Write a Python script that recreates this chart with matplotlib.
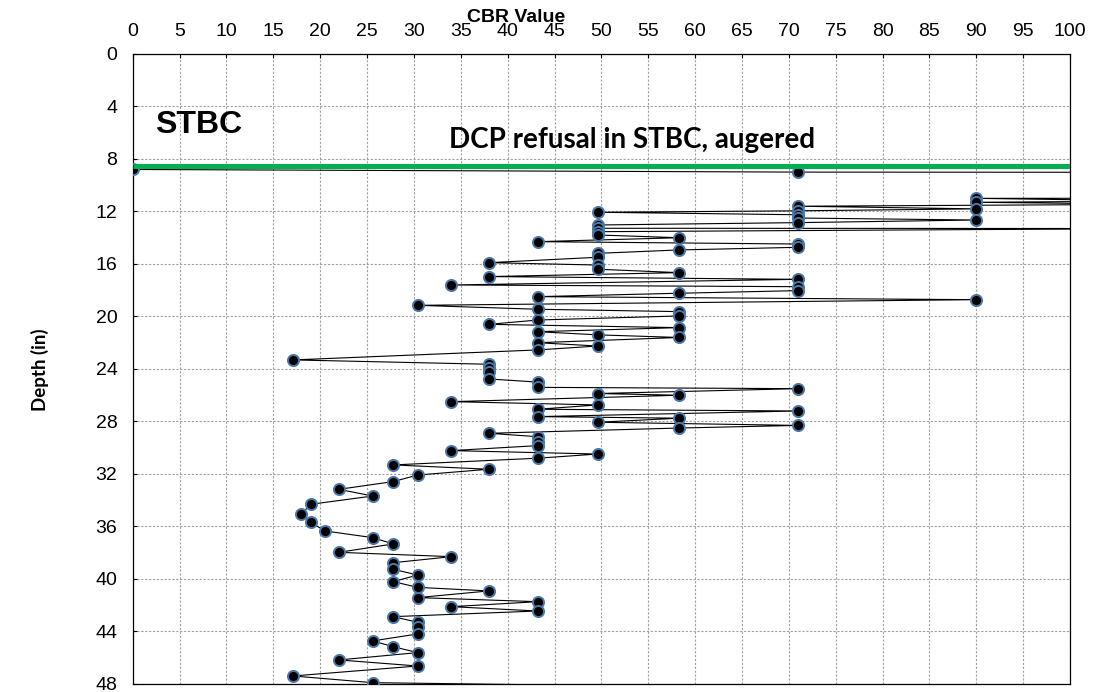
import matplotlib
matplotlib.use('Agg')
import matplotlib.pyplot as plt

# DCP profile, depth in inches and CBR value per reading
# (values above 100 run off the right edge of the chart)
depth = [8.8, 9.0, 9.1, 10.9, 11.0, 11.2, 11.3, 11.45, 11.6, 11.8, 11.95, 12.06,
         12.25, 12.5, 12.65, 12.85, 13.03, 13.28, 13.3, 13.54, 13.79, 14.0, 14.3,
         14.48, 14.73, 14.93, 15.19, 15.49, 15.9, 16.08, 16.4, 16.66, 16.96, 17.17,
         17.6, 17.73, 18.03, 18.23, 18.49, 18.72, 19.15, 19.45, 19.63, 19.96, 20.27,
         20.6, 20.85, 21.16, 21.4, 21.6, 22.0, 22.25, 22.55, 23.31, 23.64, 23.95,
         24.25, 24.76, 25.0, 25.4, 25.5, 25.87, 26.0, 26.49, 26.74, 27.07, 27.2,
         27.63, 27.75, 28.06, 28.3, 28.5, 28.9, 29.16, 29.54, 29.84, 30.22, 30.48,
         30.8, 31.31, 31.64, 32.08, 32.58, 33.17, 33.68, 34.31, 35.05, 35.68, 36.34,
         36.85, 37.33, 37.97, 38.3, 38.76, 39.26, 39.7, 40.2, 40.64, 40.91, 41.42,
         41.73, 42.11, 42.44, 42.87, 43.3, 43.68, 44.19, 44.72, 45.16, 45.61, 46.17,
         46.63, 47.39, 47.9, 48.5]
cbr = [0, 71, 300, 300, 90, 110, 90, 110, 71, 90, 71, 49.6,
       71, 71, 90, 71, 49.6, 49.6, 110, 49.6, 49.6, 58.3, 43.2,
       71, 71, 58.3, 49.6, 49.6, 38, 49.6, 49.6, 58.3, 38, 71,
       34, 71, 71, 58.3, 43.2, 90, 30.4, 43.2, 58.3, 58.3, 43.2,
       38, 58.3, 43.2, 49.6, 58.3, 43.2, 49.6, 43.2, 17.1, 38, 38,
       38, 38, 43.2, 43.2, 71, 49.6, 58.3, 34, 49.6, 43.2, 71,
       43.2, 58.3, 49.6, 71, 58.3, 38, 43.2, 43.2, 43.2, 34, 49.6,
       43.2, 27.8, 38, 30.4, 27.8, 22, 25.6, 19, 18, 19, 20.5,
       25.6, 27.8, 22, 34, 27.8, 27.8, 30.4, 27.8, 30.4, 38, 30.4,
       43.2, 34, 43.2, 27.8, 30.4, 30.4, 30.4, 25.6, 27.8, 30.4, 22,
       30.4, 17.1, 25.6, 90]

refusal_depth = 8.5
x_ticks = list(range(0, 101, 5))
y_ticks = list(range(0, 49, 4))

plt.rcParams['font.family'] = ['Liberation Sans', 'DejaVu Sans']

fig = plt.figure(figsize=(10.94, 6.92), dpi=100)
ax = fig.add_axes([0.1213, 0.0116, 0.8568, 0.9104])

ax.plot(cbr, depth, color='black', linewidth=0.8, marker='o', markersize=8,
        markerfacecolor='black', markeredgecolor='#4A78A8', markeredgewidth=1.4,
        zorder=3)
ax.plot([0, 100], [refusal_depth, refusal_depth], color='#00B050', linewidth=3.6,
        solid_capstyle='butt', zorder=4)

ax.set_xlim(0, 100)
ax.set_ylim(48, 0)
ax.set_xticks(x_ticks)
ax.set_yticks(y_ticks)
ax.xaxis.tick_top()
ax.tick_params(axis='both', direction='in', length=3, labelsize=14, color='black')
ax.tick_params(axis='x', pad=10)
ax.tick_params(axis='y', pad=11)
ax.grid(True, color='#a0a0a0', linestyle=(0, (2, 1.5)), linewidth=0.8)
for s in ax.spines.values():
    s.set_color('black')
    s.set_linewidth(0.9)

fig.text(516 / 1094, 1 - 17 / 692, 'CBR Value', fontsize=14, fontweight='bold',
         ha='center', va='center')
fig.text(40 / 1094, 1 - 370 / 692, 'Depth (in)', fontsize=13.5, fontweight='bold',
         rotation=90, ha='center', va='center', family=['Lato', 'DejaVu Sans'])
ax.text(2.4, 5.4, 'STBC', fontsize=23, fontweight='bold', ha='left', va='center')
ax.text(53.3, 6.55, 'DCP refusal in STBC, augered', fontsize=20, fontweight='bold',
        ha='center', va='center', family=['Lato', 'DejaVu Sans'])

fig.savefig('out.png', dpi=100)
